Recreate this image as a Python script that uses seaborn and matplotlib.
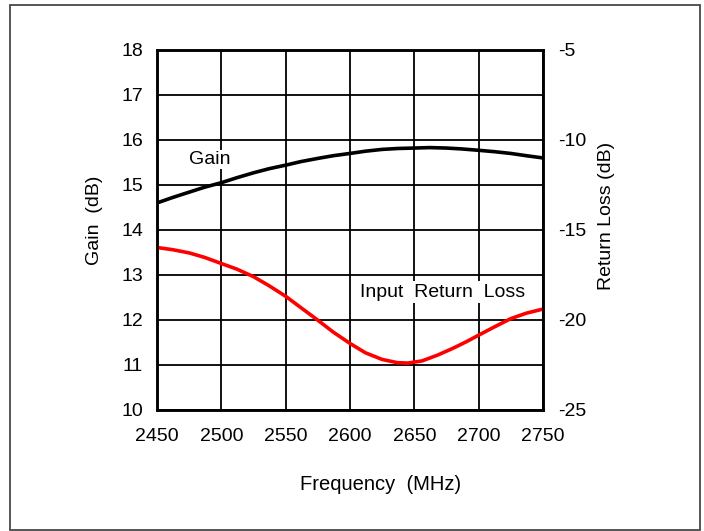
import matplotlib
matplotlib.use("Agg")
import matplotlib.pyplot as plt
import seaborn as sns
import pandas as pd
from matplotlib.patches import Rectangle

# Measured amplifier response across the band
gain_freq_mhz = [2450, 2462, 2475, 2487, 2500, 2512, 2525, 2537, 2550, 2562,
                 2575, 2587, 2600, 2612, 2625, 2637, 2650, 2662, 2675, 2687,
                 2700, 2712, 2725, 2737, 2750]
gain_db = [14.59, 14.71, 14.83, 14.94, 15.04, 15.15, 15.26, 15.35, 15.43,
           15.51, 15.58, 15.64, 15.69, 15.74, 15.78, 15.80, 15.81, 15.82,
           15.81, 15.79, 15.76, 15.73, 15.69, 15.64, 15.59]

rl_freq_mhz = [2450, 2462, 2475, 2487, 2500, 2512, 2525, 2537, 2550, 2562,
               2575, 2587, 2600, 2612, 2625, 2637, 2645, 2656, 2668, 2680,
               2690, 2700, 2712, 2725, 2737, 2750]
return_loss_db = [-16.00, -16.12, -16.30, -16.55, -16.89, -17.20, -17.62,
                  -18.12, -18.71, -19.35, -20.04, -20.70, -21.33, -21.85,
                  -22.22, -22.40, -22.42, -22.30, -21.98, -21.60, -21.25,
                  -20.87, -20.42, -19.95, -19.65, -19.42]

x_ticks = [2450, 2500, 2550, 2600, 2650, 2700, 2750]
gain_ticks = [10, 11, 12, 13, 14, 15, 16, 17, 18]
rl_ticks = [-25, -20, -15, -10, -5]

gain_df = pd.DataFrame({"freq": gain_freq_mhz, "gain": gain_db})
rl_df = pd.DataFrame({"freq": rl_freq_mhz, "rl": return_loss_db})

sns.set_theme(style="white")
plt.rcParams["font.family"] = ["Liberation Sans", "DejaVu Sans"]
plt.rcParams["axes.unicode_minus"] = False
plt.rcParams["text.color"] = "black"
plt.rcParams["axes.labelcolor"] = "black"
FS = 14

fig = plt.figure(figsize=(7.04, 5.31), dpi=100)
ax = fig.add_axes([157 / 704, 1 - 409.5 / 531, 386 / 704, 360 / 531])

sns.lineplot(data=gain_df, x="freq", y="gain", ax=ax, color="black", lw=2.6,
             solid_joinstyle="round", solid_capstyle="butt")
ax.set_xlim(2450, 2750)
ax.set_ylim(10, 18)
ax.set_xticks(x_ticks)
ax.set_yticks(gain_ticks)
ax.grid(True, color="black", lw=1.3)
ax.set_axisbelow(True)
ax.tick_params(axis="y", length=0, labelsize=FS, labelcolor="black", pad=10)
ax.tick_params(axis="x", length=0, labelsize=FS, labelcolor="black", pad=13)
ax.set_xlabel("Frequency  (MHz)", fontsize=14.5, color="black")
ax.xaxis.set_label_coords(0.578, -0.183)
ax.set_ylabel("Gain  (dB)", fontsize=FS, color="black")
ax.yaxis.set_label_coords(-0.14, 0.526)
for s in ax.spines.values():
    s.set_color("black")
    s.set_linewidth(1.8)

ax2 = ax.twinx()
sns.lineplot(data=rl_df, x="freq", y="rl", ax=ax2, color="#ff0000", lw=2.6,
             solid_joinstyle="round", solid_capstyle="butt")
ax2.set_ylim(-25, -5)
ax2.set_yticks(rl_ticks)
ax2.tick_params(length=0, labelsize=FS, labelcolor="black", pad=11)
ax2.set_ylabel("Return Loss (dB)", fontsize=FS, color="black")
ax2.yaxis.set_label_coords(1.1425, 0.537)
ax2.set_xlabel("")
for s in ax2.spines.values():
    s.set_color("black")
    s.set_linewidth(1.8)

ax.text(2491, 15.56, "Gain", fontsize=FS, ha="center", va="center", zorder=5,
        color="black",
        bbox=dict(facecolor="white", edgecolor="none", pad=0.5))
ax2.text(2672, -18.48, "Input  Return  Loss", fontsize=FS, ha="center",
         va="center", zorder=5, color="black",
         bbox=dict(facecolor="white", edgecolor="none", pad=2))

# Frame around the whole figure
fig.patches.append(Rectangle((10 / 704, 1 / 531), 690 / 704, 525 / 531,
                             transform=fig.transFigure, fill=False,
                             edgecolor="#484848", lw=1.3))

fig.savefig("out.png", dpi=100)
